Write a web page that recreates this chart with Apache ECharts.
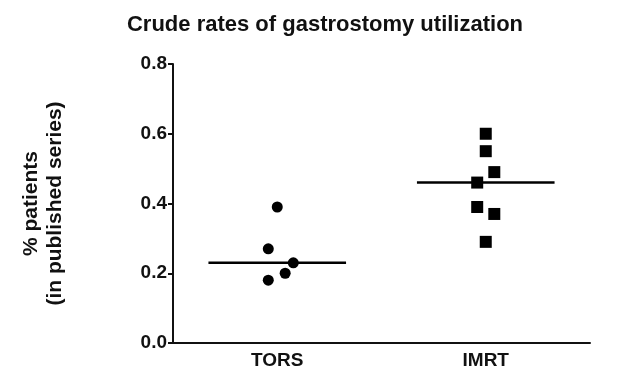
<!DOCTYPE html>
<html>
<head>
<meta charset="utf-8">
<script src="https://cdn.jsdelivr.net/npm/echarts@6/dist/echarts.min.js"></script>
<style>
  html, body { margin: 0; padding: 0; background: #fff; }
  #chart { width: 623px; height: 377px; }
</style>
</head>
<body>
<div id="chart"></div>
<script>
const categories = ["TORS", "IMRT"];
const yTicks = [0, 0.2, 0.4, 0.6, 0.8];

// x = group index plus the plot's horizontal scatter, y = rate
const torsPoints = [[0, 0.39], [-0.043, 0.27], [0.077, 0.23], [0.038, 0.20], [-0.043, 0.18]];
const imrtPoints = [[1, 0.60], [1, 0.55], [1.041, 0.49], [0.959, 0.46], [0.959, 0.39], [1.041, 0.37], [1, 0.29]];
const medians = [0.23, 0.46];
const medianHalfWidth = 0.33;

const font = "Liberation Sans, Arial, sans-serif";
const chart = echarts.init(document.getElementById("chart"));

const medianData = medians.map((m, i) => [[i - medianHalfWidth, m], [i + medianHalfWidth, m]]);

chart.setOption({
  animation: false,
  title: {
    text: "Crude rates of gastrostomy utilization",
    left: 320,
    textAlign: "center",
    top: 9,
    textStyle: { fontFamily: font, fontSize: 22, fontWeight: "bold", color: "#111" }
  },
  grid: { left: 173, right: 33, top: 64, bottom: 34 },
  xAxis: [
    {
      type: "category",
      data: categories,
      boundaryGap: true,
      axisLine: { lineStyle: { color: "#111", width: 2 } },
      axisTick: { alignWithLabel: true, length: 5, lineStyle: { color: "#111", width: 2 } },
      axisLabel: { fontFamily: font, fontSize: 19, fontWeight: "bold", color: "#111", margin: 8 },
      splitLine: { show: false }
    },
    {
      type: "value",
      min: -0.5,
      max: 1.5,
      show: false,
      splitLine: { show: false }
    }
  ],
  yAxis: {
    type: "value",
    min: yTicks[0],
    max: yTicks[yTicks.length - 1],
    interval: 0.2,
    name: "% patients\n(in published series)",
    nameLocation: "middle",
    nameGap: 106,
    nameTextStyle: { fontFamily: font, fontSize: 21, fontWeight: "bold", color: "#111", lineHeight: 24 },
    axisLine: { show: true, onZero: false, lineStyle: { color: "#111", width: 2 } },
    axisTick: { show: true, length: 5, lineStyle: { color: "#111", width: 2 } },
    axisLabel: {
      fontFamily: font, fontSize: 19, fontWeight: "bold", color: "#111", margin: 6,
      formatter: v => v.toFixed(1)
    },
    splitLine: { show: false }
  },
  series: [
    {
      type: "scatter",
      xAxisIndex: 1,
      data: torsPoints,
      symbol: "circle",
      symbolSize: 11,
      itemStyle: { color: "#000", opacity: 1 }
    },
    {
      type: "scatter",
      xAxisIndex: 1,
      data: imrtPoints,
      symbol: "rect",
      symbolSize: 12,
      itemStyle: { color: "#000", opacity: 1 }
    },
    ...medianData.map(d => ({
      type: "line",
      xAxisIndex: 1,
      data: d,
      symbol: "none",
      lineStyle: { color: "#000", width: 2.5 },
      z: 1
    }))
  ]
});
</script>
</body>
</html>
